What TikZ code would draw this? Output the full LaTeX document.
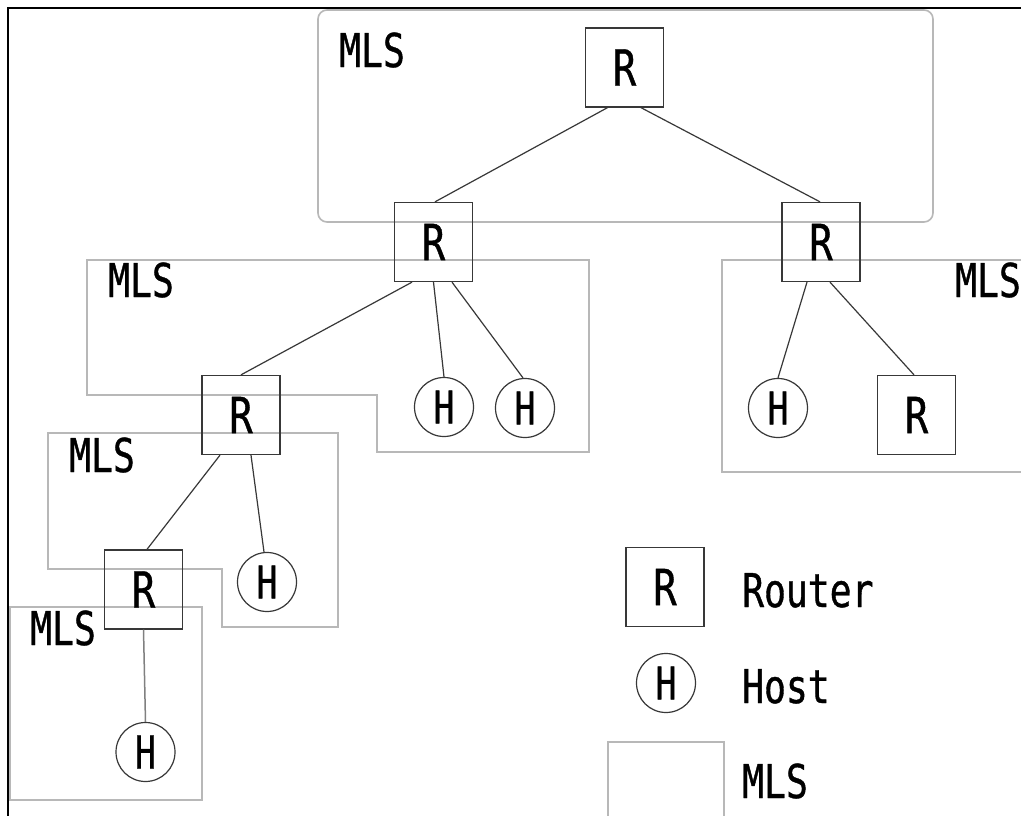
\documentclass[tikz,border=0pt]{standalone}
\usepackage{fontspec}
\newfontfamily\lblfont[FakeStretch=0.78,FakeBold=0.8]{DejaVu Sans Mono}
\usetikzlibrary{calc}
\definecolor{mlsgray}{HTML}{B8B8B8}
\definecolor{edgegray}{HTML}{383838}
\begin{document}
\begin{tikzpicture}[x=1pt,y=-1pt,
  router/.style={draw=edgegray,line width=1.3pt,minimum width=78pt,minimum height=79pt,inner sep=0pt,
    font=\lblfont\fontsize{50}{52}\selectfont},
  host/.style={draw=edgegray,line width=1.2pt,circle,minimum size=59pt,inner sep=0pt,
    font=\lblfont\fontsize{45}{47}\selectfont},
  link/.style={draw=edgegray,line width=1.2pt},
  mls/.style={draw=mlsgray,line width=1.6pt},
  lbl/.style={anchor=base west,inner sep=0pt,font=\lblfont\fontsize{46.6}{48}\selectfont}]
\useasboundingbox (0,0) rectangle (1021,816);
\clip (0,0) rectangle (1021,816);
\fill[white] (0,0) rectangle (1021,816);

% outer frame
\draw[line width=2.5pt,black] (8,8) rectangle (1040,840);

% multicast local scopes
\draw[mls,rounded corners=9pt] (318,10) rectangle (933,222);
\draw[mls] (87,260) -- (589,260) -- (589,452) -- (377,452) -- (377,395) -- (87,395) -- cycle;
\draw[mls] (722,260) rectangle (1040,472);
\draw[mls] (48,433) -- (338,433) -- (338,627) -- (222,627) -- (222,569) -- (48,569) -- cycle;
\draw[mls] (10,607) rectangle (202,800);
\draw[mls] (608,742) rectangle (724,840);

\node[lbl] (m1) at (339,67) {MLS};
\node[lbl] (m2) at (108,297) {MLS};
\node[lbl] (m3) at (955,297) {MLS};
\node[lbl] (m4) at (69,472) {MLS};
\node[lbl] (m5) at (30,645) {MLS};

% routers and hosts
\node[router] (rt) at (624.5,67.5) {R};
\node[router] (r1) at (433.5,242) {R};
\node[router] (r2) at (821,242) {R};
\node[router] (r3) at (241,415) {R};
\node[router] (r5) at (916.5,415) {R};
\node[router] (r4) at (143.5,589.5) {R};
\node[host] (h1) at (444,407) {H};
\node[host] (h2) at (525,408) {H};
\node[host] (h3) at (778,408) {H};
\node[host] (h4) at (267,582) {H};
\node[host] (h5) at (145.5,752) {H};

% links
\draw[link] ([xshift=-17pt]rt.south) -- ([xshift=1.5pt]r1.north);
\draw[link] ([xshift=16.5pt]rt.south) -- ([xshift=-1pt]r2.north);
\draw[link] ([xshift=-21.5pt]r1.south) -- (r3.north);
\draw[link] (r1.south) -- (h1.north);
\draw[link] ([xshift=18.5pt]r1.south) -- ([xshift=-2pt]h2.north);
\draw[link] ([xshift=-14pt]r2.south) -- (h3.north);
\draw[link] ([xshift=9pt]r2.south) -- ([xshift=-2.5pt]r5.north);
\draw[link] ([xshift=-21pt]r3.south) -- ([xshift=3.5pt]r4.north);
\draw[link] ([xshift=10pt]r3.south) -- ([xshift=-3pt]h4.north);
\draw[link,line width=1.5pt,draw=gray] (r4.south) -- (h5.north);

% legend
\node[router] (lr) at (665,587) {R};
\node[host] (lh) at (666,683) {H};
\node[lbl] (lrt) at (742,607) {Router};
\node[lbl] (lht) at (742,703) {Host};
\node[lbl] (lmt) at (742,798) {MLS};
\end{tikzpicture}
\end{document}
